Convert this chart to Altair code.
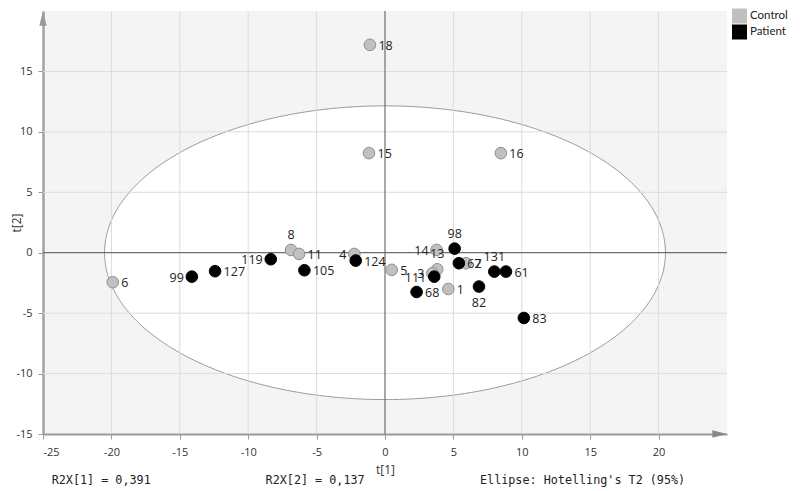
import altair as alt
import numpy as np
import pandas as pd

# ---- data ----
ids = ["18", "15", "16", "8", "11", "4", "5", "14", "13", "3", "7", "1", "6",
       "98", "62", "111", "68", "82", "131", "61", "83", "99", "127", "119", "105", "124"]
groups = ["Control"] * 13 + ["Patient"] * 13
t1 = [-1.10, -1.17, 8.47, -6.87, -6.28, -2.24, 0.49, 3.77, 3.82, 3.46, 5.92, 4.63, -19.90,
      5.09, 5.40, 3.60, 2.31, 6.87, 7.99, 8.84, 10.15, -14.12, -12.42, -8.35, -5.89, -2.14]
t2 = [17.20, 8.24, 8.24, 0.23, -0.10, -0.10, -1.42, 0.23, -1.37, -1.70, -0.87, -3.00, -2.44,
      0.34, -0.87, -1.98, -3.25, -2.80, -1.56, -1.56, -5.40, -1.98, -1.53, -0.54, -1.45, -0.65]

x_ticks = [-25, -20, -15, -10, -5, 0, 5, 10, 15, 20]
y_ticks = [-15, -10, -5, 0, 5, 10, 15]
x_minor = [v + 2.5 for v in x_ticks]
y_minor = [v + 2.5 for v in y_ticks]

# Hotelling T2 (95%) ellipse semi-axes
ell_a, ell_b = 20.5, 12.15

notes = ["R2X[1] = 0,391", "R2X[2] = 0,137", "Ellipse: Hotelling's T2 (95%)"]

# label placement (style)
label_side = {"14": "left", "111": "left", "3": "left", "4": "left", "119": "left", "99": "left",
              "98": "top", "13": "top", "131": "top", "8": "top", "82": "bottom"}

df = pd.DataFrame({"id": ids, "group": groups, "t1": t1, "t2": t2})
df["side"] = [label_side.get(i, "right") for i in ids]

theta = np.linspace(0, np.pi, 241)
ell = pd.DataFrame({"ex": ell_a * np.cos(theta), "ey": ell_b * np.sin(theta)})
ell["ey2"] = -ell["ey"]

W, H = 684, 423
xs = alt.Scale(domain=[-25, 25], nice=False, zero=False)
ys = alt.Scale(domain=[-15, 20], nice=False, zero=False)
FONT = "Open Sans"

all_x = sorted(x_ticks + x_minor[:-1])
all_y = sorted(y_ticks + y_minor[:-1])

x_axis = alt.Axis(values=all_x, grid=False, domainColor="#999999", domainWidth=2,
                  tickColor="#999999",
                  tickSize={"condition": {"test": "datum.value % 5 === 0", "value": 5}, "value": 3},
                  labelExpr="datum.value % 5 === 0 ? toString(datum.value) : ''",
                  labelFont=FONT, labelFontSize=11, labelColor="#333333", labelPadding=7,
                  title="t[1]", titleFont=FONT, titleFontSize=12, titleFontWeight="normal",
                  titleColor="#333333", titlePadding=7)
y_axis = alt.Axis(values=all_y, grid=False, domainColor="#a0a0a0", domainWidth=2.5,
                  tickColor="#999999",
                  tickSize={"condition": {"test": "datum.value % 5 === 0", "value": 5}, "value": 3},
                  labelExpr="datum.value % 5 === 0 ? toString(datum.value) : ''",
                  labelFont=FONT, labelFontSize=11, labelColor="#333333", labelPadding=6,
                  title="t[2]", titleFont=FONT, titleFontSize=12, titleFontWeight="normal",
                  titleColor="#333333", titleX=-27, titleBaseline="middle")

ellipse = alt.Chart(ell).mark_area(fill="white", stroke="#9a9a9a", strokeWidth=1).encode(
    x=alt.X("ex:Q", scale=xs, axis=x_axis),
    y=alt.Y("ey:Q", scale=ys, axis=y_axis),
    y2="ey2:Q",
)

xg = pd.DataFrame({"v": [v for v in x_ticks if v not in (-25, 0)]})
yg = pd.DataFrame({"v": [v for v in y_ticks if v not in (-15, 0)]})
grid_x = alt.Chart(xg).mark_rule(color="#dcdcdc", strokeWidth=1).encode(x=alt.X("v:Q", scale=xs))
grid_y = alt.Chart(yg).mark_rule(color="#dcdcdc", strokeWidth=1).encode(y=alt.Y("v:Q", scale=ys))
zero_x = alt.Chart(pd.DataFrame({"v": [0]})).mark_rule(color="#6e6e6e", strokeWidth=1.2).encode(
    x=alt.X("v:Q", scale=xs))
zero_y = alt.Chart(pd.DataFrame({"v": [0]})).mark_rule(color="#6e6e6e", strokeWidth=1.2).encode(
    y=alt.Y("v:Q", scale=ys))

points = alt.Chart(df).mark_point(filled=True, size=135, opacity=1, strokeWidth=1).encode(
    x=alt.X("t1:Q", scale=xs),
    y=alt.Y("t2:Q", scale=ys),
    color=alt.Color("group:N",
                    scale=alt.Scale(domain=["Control", "Patient"], range=["#c0c0c0", "#000000"]),
                    legend=alt.Legend(title=None)),
    stroke=alt.Stroke("group:N",
                      scale=alt.Scale(domain=["Control", "Patient"], range=["#8e8e8e", "#000000"]),
                      legend=None),
)

side_style = {
    "right": dict(align="left", baseline="middle", dx=8.5, dy=1),
    "left": dict(align="right", baseline="middle", dx=-8, dy=1),
    "top": dict(align="center", baseline="middle", dx=0, dy=-15),
    "bottom": dict(align="center", baseline="middle", dx=0, dy=16.5),
}
labels = []
for side, st in side_style.items():
    labels.append(
        alt.Chart(df).transform_filter(alt.datum.side == side)
        .mark_text(font=FONT, fontSize=12.5, color="#222222", **st)
        .encode(x=alt.X("t1:Q", scale=xs), y=alt.Y("t2:Q", scale=ys), text="id:N")
    )

one = alt.Data(values=[{"k": 1}])
arrow_x = alt.Chart(one).mark_point(shape="M-1,-0.5L1,0L-1,0.5Z", filled=True, size=216,
                                     color="#888888", opacity=1).encode(
    x=alt.value(W - 7.35), y=alt.value(H))
arrow_y = alt.Chart(one).mark_point(shape="M-0.5,1L0,-1L0.5,1Z", filled=True, size=216,
                                     color="#999999", opacity=1).encode(
    x=alt.value(0), y=alt.value(7.35))

note_x = [8.7, 222.6, 437]
note_layers = []
for txt, nx in zip(notes, note_x):
    note_layers.append(
        alt.Chart(one).mark_text(text=txt, font="DejaVu Sans Mono", fontSize=11.75, align="left",
                                 baseline="middle", color="#222222")
        .encode(x=alt.value(nx), y=alt.value(H + 46))
    )

chart = alt.layer(ellipse, grid_x, grid_y, zero_x, zero_y, points, *labels,
                  arrow_x, arrow_y, *note_layers).properties(
    width=W, height=H,
    autosize=alt.AutoSizeParams(type="none"),
    padding={"left": 35, "top": 3, "right": 65, "bottom": 57},
).configure_view(fill="#f4f4f4", strokeWidth=0).configure_legend(
    orient="none", legendX=689, legendY=-2.5, symbolType="square", symbolSize=225,
    symbolStrokeWidth=0, symbolOpacity=1, labelFont="Lato", labelFontSize=11.5,
    labelColor="#222222", rowPadding=1, padding=0, labelOffset=3,
)

chart.save("out.html", embed_options={"renderer": "svg", "actions": False})
